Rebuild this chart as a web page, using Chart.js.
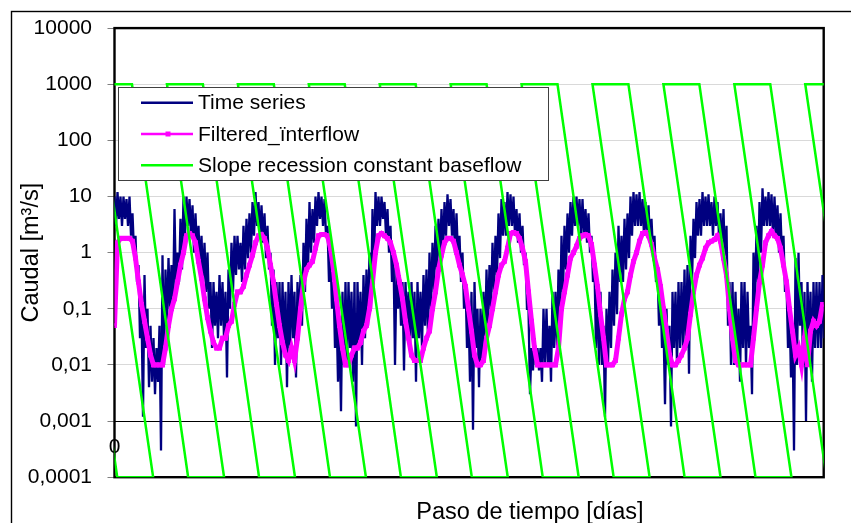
<!DOCTYPE html>
<html><head><meta charset="utf-8">
<script src="https://cdn.jsdelivr.net/npm/chart.js@4.4.1/dist/chart.umd.min.js"></script>
<style>
html,body{margin:0;padding:0;background:#fff;}
#wrap{position:relative;width:851px;height:523px;}
canvas{display:block;}
</style></head><body>
<div id="wrap"><canvas id="c" width="851" height="523"></canvas></div>
<script>
// ---------- DATA ----------
const seriesNames = ['Time series', 'Filtered_\u00efnterflow', 'Slope recession constant baseflow'];
const xTitle = 'Paso de tiempo [d\u00edas]';
const yTitle = 'Caudal [m\u00b3/s]';
const yTickValues = [0.0001, 0.001, 0.01, 0.1, 1, 10, 100, 1000, 10000];
const yTickLabels = ['0,0001', '0,001', '0,01', '0,1', '1', '10', '100', '1000', '10000'];
const xTickLabel = '0';
const X_MAX_DAYS = 3650;
const TS_STEP_DAYS = 7.72;    // spacing of time-series readings
const FI_STEP_DAYS = 15.44;   // spacing of filtered-interflow readings

// daily time series, read as alternating high / low readings
const timeSeries = [
  10,3, 12,4, 10,3, 10,4, 9,3, 10,2, 5,1, 2,0.3, 0.6,0.03, 0.1,0.0012,
  0.4,0.02, 0.1,0.004, 0.05,0.005, 0.03,0.003, 0.02,0.005, 0.05,0.0003, 0.9,0.01, 0.5,0.05, 0.8,0.1, 0.6,0.1,
  6,0.2, 1,0.3, 4,0.5, 10,2, 10,3, 9,2, 7,1, 5,1, 3,0.5, 2,0.3,
  1.5,0.2, 1,0.1, 0.3,0.02, 0.3,0.05, 0.2,0.03, 0.4,0.05, 0.3,0.03, 0.2,0.006, 0.5,0.1, 1.5,0.2,
  2,0.4,
  2,0.5, 1.5,0.3, 3,0.5, 4,0.8, 5,1, 8,2, 12,3, 8,2, 7,1.5, 5,0.8,
  3,0.5, 1,0.05, 0.5,0.01, 0.3,0.03, 0.3,0.01, 0.3,0.02, 0.2,0.004, 0.3,0.02, 0.4,0.03, 0.2,0.006,
  0.3,0.05, 0.4,0.05, 1.5,0.2, 4,0.5, 8,1, 6,1.5, 10,3, 12,4, 10,3, 9,2,
  3,0.3, 1,0.1, 0.3,0.02, 0.1,0.005, 0.05,0.0015, 0.2,0.01, 0.3,0.01, 0.3,0.02, 0.2,0.005, 0.3,0.0008,
  0.3,0.02, 0.2,0.01, 0.4,0.03, 0.5,0.05, 1,0.1, 6,0.5, 12,3, 10,3, 10,4, 8,2,
  6,1, 3,0.3, 1,0.01, 0.5,0.1, 0.4,0.05, 0.3,0.008, 0.3,0.05, 0.2,0.02, 0.3,0.03, 0.2,0.005,
  0.3,0.03, 0.2,0.02, 0.4,0.05, 0.5,0.03, 1,0.1, 1.5,0.2, 3,0.5, 4,0.8, 6,1, 8,2,
  11,3, 9,2, 6,1, 5,0.8, 2,0.3, 1,0.1, 0.3,0.02, 0.1,0.005, 0.2,0.0007, 0.3,0.02,
  0.1,0.004, 0.1,0.01, 0.2,0.02, 0.5,0.05, 0.6,0.1, 1.5,0.2, 2,0.4, 5,0.8, 9,2, 8,2,
  12,3, 11,3, 10,2, 6,1.5, 5,1, 3,0.6, 1,0.1, 0.1,0.003, 0.02,0.008, 0.03,0.01,
  0.02,0.008, 0.02,0.005, 0.1,0.01, 0.1,0.01, 0.05,0.005, 0.2,0.02, 0.2,0.02, 0.5,0.05, 2,0.2, 3,0.5,
  5,1, 8,2, 10,3, 10,3, 9,2, 9,2, 6,1.5, 5,1, 2,0.3, 0.5,0.02,
  0.3,0.01, 0.2,0.01, 0.05,0.0012, 0.1,0.01, 0.2,0.02, 0.5,0.05, 1,0.08, 3,0.3, 2,0.3, 4,0.5,
  5,0.8, 10,2, 12,3, 11,3, 12,3, 9,2, 8,2, 7,1.5, 4,1, 2,0.3,
  0.5,0.05, 0.2,0.02, 0.05,0.002, 0.1,0.01, 0.05,0.0008, 0.2,0.02, 0.2,0.01, 0.3,0.02, 0.3,0.02, 0.5,0.02,
  0.6,0.007, 2,0.3, 4,0.8, 8,2, 9,2, 12,3, 10,3, 11,3, 8,2, 10,3,
  8,2, 5,1, 6,0.5, 3,0.05, 0.3,0.01, 0.3,0.01, 0.2,0.01, 0.1,0.005, 0.3,0.02, 0.3,0.01,
  0.2,0.02, 0.05,0.003, 1,0.1, 3,0.3, 8,1, 14,3, 10,3, 12,3, 11,2, 10,2,
  7,1, 5,0.8, 2,0.2, 0.3,0.02, 0.1,0.006, 0.05,0.0003, 0.8,0.01, 1,0.05, 0.3,0.01, 0.2,0.001,
  0.3,0.02, 0.2,0.005, 0.3,0.02, 0.3,0.02, 0.3,0.02, 0.4,0.03
];

const filteredInterflow = [
  0.05, 1.5, 1.8, 1.8, 1.8, 1.8, 1.6, 0.8, 0.3, 0.12, 0.06, 0.03, 0.015, 0.01, 0.01, 0.01, 0.01, 0.02, 0.05, 0.1,
  0.15, 0.3, 0.6, 1, 2, 2.2, 2, 1.5, 0.7, 0.35, 0.15, 0.07, 0.04, 0.025, 0.02, 0.02, 0.03, 0.03, 0.05, 0.06, 0.12,
  0.2, 0.2, 0.25, 0.4, 0.6, 0.9, 1.5, 2, 2.1, 1.8, 1.2, 0.6, 0.3, 0.12, 0.05, 0.025, 0.015, 0.012, 0.02, 0.012,
  0.03, 0.1, 0.3, 0.5, 0.6, 0.7, 1.2, 2, 2.1, 2.1, 2, 1.2, 0.5, 0.15, 0.05, 0.02, 0.01, 0.01, 0.015, 0.02,
  0.02, 0.025, 0.04, 0.05, 0.1, 0.3, 1, 2, 2.2, 2, 1.8, 1.5, 1, 0.6, 0.3, 0.15, 0.06, 0.03, 0.015, 0.012,
  0.012, 0.012, 0.02, 0.03, 0.04, 0.1, 0.2, 0.5, 0.9, 1.5, 1.8, 1.8, 1.6, 1, 0.6, 0.4, 0.25, 0.1, 0.04, 0.015,
  0.01, 0.01, 0.012, 0.03, 0.05, 0.1, 0.2, 0.4, 0.6, 0.7, 1.2, 2.2, 2.3, 2.2, 1.8, 1.2, 0.7, 0.2, 0.06, 0.02,
  0.01, 0.01, 0.01, 0.01, 0.01, 0.01, 0.01, 0.02, 0.1, 0.2, 0.4, 0.8, 1, 1.3, 1.8, 2, 2.1, 2, 1.4, 0.6,
  0.25, 0.08, 0.03, 0.01, 0.01, 0.01, 0.012, 0.03, 0.08, 0.15, 0.2, 0.4, 0.7, 1, 1.6, 2.2, 2.3, 2, 1.4, 0.8,
  0.5, 0.25, 0.1, 0.04, 0.015, 0.01, 0.01, 0.012, 0.015, 0.02, 0.03, 0.08, 0.2, 0.4, 0.6, 0.8, 1.2, 1.5, 1.6, 1.7,
  2, 1.6, 0.8, 0.4, 0.1, 0.03, 0.012, 0.01, 0.01, 0.01, 0.01, 0.01, 0.03, 0.1, 0.3, 0.6, 1.5, 2, 2.4, 2,
  1.8, 1.2, 0.6, 0.3, 0.1, 0.04, 0.015, 0.02, 0.01, 0.03, 0.01, 0.04, 0.06, 0.05, 0.06, 0.12
];

// slope recession constant baseflow: vertices (day, value)
const recessionDays = [
  -460, -275, 14, 199,
  -95, 90, 379, 564,
  270, 455, 744, 929,
  635, 820, 1109, 1294,
  1000, 1185, 1474, 1659,
  1365, 1550, 1839, 2024,
  1730, 1915, 2204, 2389,
  2095, 2280, 2569, 2754,
  2460, 2645, 2934, 3119,
  2825, 3010, 3299, 3484,
  3190, 3375, 3664, 3849,
  3555, 3740, 4029, 4214
];
const recessionValues = [
  1000, 1000, 0.0001, 0.0001,
  1000, 1000, 0.0001, 0.0001,
  1000, 1000, 0.0001, 0.0001,
  1000, 1000, 0.0001, 0.0001,
  1000, 1000, 0.0001, 0.0001,
  1000, 1000, 0.0001, 0.0001,
  1000, 1000, 0.0001, 0.0001,
  1000, 1000, 0.0001, 0.0001,
  1000, 1000, 0.0001, 0.0001,
  1000, 1000, 0.0001, 0.0001,
  1000, 1000, 0.0001, 0.0001,
  1000, 1000, 0.0001, 0.0001
];

const seriesColors = ['#000080', '#FF00FF', '#00FF00'];

// ---------- CHART ----------
const FONT = '"Liberation Sans", Arial, Helvetica, sans-serif';
Chart.defaults.font.family = FONT;
Chart.defaults.font.size = 21;
Chart.defaults.color = '#000';
const TITLE_SIZE = 23.5;

const tsDays = timeSeries.map((_, i) => i * TS_STEP_DAYS);
const fiDays = filteredInterflow.map((_, i) => i * FI_STEP_DAYS);

const decorPlugin = {
  id: 'decor',
  beforeDraw(chart) {
    const c = chart.ctx;
    c.save();
    c.fillStyle = '#fff';
    c.fillRect(0, 0, chart.width, chart.height);
    c.strokeStyle = '#000';
    c.lineWidth = 1.4;
    c.strokeRect(11.5, 11.5, 900, 600);
    c.restore();
  },
  beforeDatasetsDraw(chart) {
    const c = chart.ctx, a = chart.chartArea;
    c.save();
    c.strokeStyle = '#000';
    c.lineWidth = 2.4;
    c.strokeRect(a.left, a.top, a.right - a.left, a.bottom - a.top);
    c.restore();
  },
  afterDraw(chart) {
    const c = chart.ctx;
    c.save();
    const lx = 118.5, ly = 87.5, lw = 430, lh = 93;
    c.fillStyle = '#fff';
    c.fillRect(lx, ly, lw, lh);
    c.strokeStyle = '#404040';
    c.lineWidth = 1;
    c.strokeRect(lx, ly, lw, lh);
    const rows = [102.7, 134, 165.3];
    c.font = '21px ' + FONT;
    c.textAlign = 'left';
    c.textBaseline = 'middle';
    chart.data.datasets.forEach((ds, i) => {
      const y = rows[i];
      c.strokeStyle = ds.borderColor;
      c.lineWidth = 2.5;
      c.beginPath();
      c.moveTo(141, y);
      c.lineTo(193, y);
      c.stroke();
      if (ds.pointStyle === 'rect') {
        c.fillStyle = ds.borderColor;
        c.fillRect(165.5, y - 2.5, 5, 5);
      }
      c.fillStyle = '#000';
      c.fillText(ds.label, 198, y + 1);
    });
    c.font = TITLE_SIZE + 'px ' + FONT;
    c.textAlign = 'center';
    c.textBaseline = 'alphabetic';
    c.fillText(xTitle, 530, 519);
    c.restore();
  }
};

new Chart(document.getElementById('c'), {
  type: 'line',
  data: {
    datasets: [
      {
        label: seriesNames[0],
        data: tsDays.map((d, i) => ({ x: d, y: timeSeries[i] })),
        borderColor: seriesColors[0], borderWidth: 2.3, pointRadius: 0, tension: 0, order: 2
      },
      {
        label: seriesNames[1],
        data: fiDays.map((d, i) => ({ x: d, y: filteredInterflow[i] })),
        borderColor: seriesColors[1], backgroundColor: seriesColors[1], borderWidth: 5,
        pointStyle: 'rect', pointRadius: 3.4, pointBorderWidth: 0, pointBackgroundColor: seriesColors[1],
        tension: 0, order: 1
      },
      {
        label: seriesNames[2],
        data: recessionDays.map((d, i) => ({ x: d, y: recessionValues[i] })),
        borderColor: seriesColors[2], borderWidth: 2.5, pointRadius: 0, tension: 0, order: 0
      }
    ]
  },
  options: {
    responsive: false,
    animation: false,
    devicePixelRatio: 1,
    layout: { padding: { left: 17.4, top: 23.3, right: 27.3, bottom: 0 } },
    plugins: { legend: { display: false }, tooltip: { enabled: false } },
    scales: {
      x: {
        type: 'linear', min: 0, max: X_MAX_DAYS,
        ticks: { display: false },
        grid: { display: false, drawTicks: false },
        border: { display: false },
        afterFit(s) { s.height = 45.8; }
      },
      x0: {
        type: 'linear', axis: 'x', position: { y: 0.001 }, min: 0, max: X_MAX_DAYS,
        grid: { display: false, drawTicks: false },
        border: { display: true, color: '#000', width: 1 },
        ticks: { padding: 14, color: '#000', font: { size: 21 }, autoSkip: false, maxRotation: 0, callback: () => xTickLabel },
        afterBuildTicks(s) { s.ticks = [{ value: 0 }]; }
      },
      y: {
        type: 'logarithmic', min: 0.0001, max: 10000,
        afterBuildTicks(s) { s.ticks = yTickValues.map(v => ({ value: v })); },
        afterFit(s) { s.width = 97.1; },
        ticks: {
          padding: 15.5, color: '#000', font: { size: 21 }, autoSkip: false,
          callback: (v, i) => yTickLabels[i]
        },
        grid: { color: '#d9d9d9', lineWidth: 1, tickLength: 7, tickColor: '#808080', tickWidth: 1 },
        border: { display: false },
        title: { display: true, text: yTitle, color: '#000', font: { size: TITLE_SIZE }, padding: 0 }
      }
    }
  },
  plugins: [decorPlugin]
});
</script>
</body></html>
